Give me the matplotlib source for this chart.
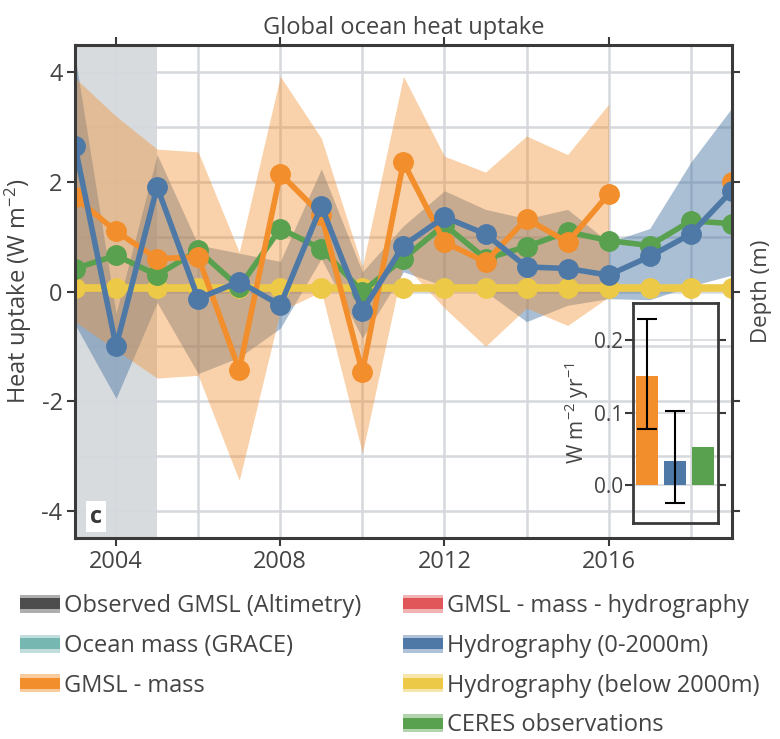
import numpy as np
import matplotlib
matplotlib.use("Agg")
import matplotlib.pyplot as plt
from matplotlib.patches import Patch, Rectangle
from matplotlib.legend_handler import HandlerBase

plt.rcParams['font.family'] = ['Open Sans', 'DejaVu Sans']
plt.rcParams['mathtext.fontset'] = 'custom'
plt.rcParams['mathtext.rm'] = 'Open Sans'
plt.rcParams['mathtext.it'] = 'Open Sans'
plt.rcParams['axes.unicode_minus'] = False

nan = np.nan
years = [2003, 2004, 2005, 2006, 2007, 2008, 2009, 2010, 2011,
         2012, 2013, 2014, 2015, 2016, 2017, 2018, 2019]

hydro_0_2000 = [2.65, -1.0, 1.91, -0.13, 0.18, -0.25, 1.56, -0.35, 0.84,
                1.36, 1.05, 0.45, 0.42, 0.30, 0.64, 1.05, 1.84]
hydro_upper = [4.3, -0.4, 2.5, 0.85, 0.7, 0.55, 2.24, 0.36, 1.2,
               1.84, 1.5, 1.33, 1.5, 0.9, 1.15, 2.36, 3.35]
hydro_lower = [-0.6, -1.95, -0.2, -1.5, -1.2, -0.67, 0.6, -0.85, 0.36,
               0.1, 0.0, -0.55, -0.25, -0.13, -0.15, 0.1, 0.3]

gmsl_mass = [1.72, 1.1, 0.6, 0.63, -1.43, 2.15, 1.4, -1.47, 2.36,
             0.9, 0.54, 1.33, 0.9, 1.78, nan, nan, 2.0]
gmsl_mass_upper = [3.9, 3.2, 2.6, 2.55, 0.72, 3.93, 2.8, 0.45, 3.93,
                   2.47, 2.18, 2.84, 2.5, 3.42, nan, nan, nan]
gmsl_mass_lower = [-0.55, -1.07, -1.58, -1.53, -3.45, -0.36, 0.0, -2.95, 0.5,
                   -0.3, -1.0, -0.3, -0.62, -0.1, nan, nan, nan]

ceres = [0.42, 0.66, 0.3, 0.75, 0.08, 1.15, 0.78, 0.0, 0.6,
         1.22, 0.6, 0.82, 1.09, 0.93, 0.84, 1.29, 1.24]

hydro_deep = [0.07, 0.07, 0.07, 0.07, 0.07, 0.07, 0.07, 0.07, 0.07,
              0.07, 0.07, 0.07, 0.07, 0.07, 0.07, 0.07, 0.07]

trend_values = [0.150, 0.034, 0.052]
trend_err_low = [0.073, 0.059, nan]
trend_err_high = [0.079, 0.068, nan]

legend_labels_left = ["Observed GMSL (Altimetry)", "Ocean mass (GRACE)", "GMSL - mass"]
legend_labels_right = ["GMSL - mass - hydrography", "Hydrography (0-2000m)",
                       "Hydrography (below 2000m)", "CERES observations"]

C_GRAY = '#4d4d4d'
C_TEAL = '#76b7b2'
C_ORANGE = '#f28e2b'
C_RED = '#e15759'
C_BLUE = '#4e79a7'
C_YELLOW = '#edc948'
C_GREEN = '#59a14f'
TXT = '#444444'
SPINE = '#3a3a3a'
GRID = '#d5d8dc'
FS = 17

fig = plt.figure(figsize=(7.8, 7.39), dpi=100)
ax = fig.add_axes([0.0962, 0.272, 0.842, 0.667])

x = np.array(years, dtype=float)

ax.axvspan(2003, 2005, color='#d8dbde', lw=0, zorder=0.3)
ax.fill_between(x, hydro_lower, hydro_upper, color=C_BLUE, alpha=0.48,
                lw=0, zorder=2)
ax.fill_between(x, gmsl_mass_lower, gmsl_mass_upper, color=C_ORANGE, alpha=0.4,
                lw=0, zorder=2.1)

ms = 14
lw = 4
ax.plot(x, hydro_deep, color=C_YELLOW, lw=5.5, marker='o', ms=ms, zorder=3)
ax.plot(x, ceres, color=C_GREEN, lw=lw, marker='o', ms=ms, zorder=4)
ax.plot(x, gmsl_mass, color=C_ORANGE, lw=lw, marker='o', ms=ms, zorder=5)
ax.plot(x, hydro_0_2000, color=C_BLUE, lw=lw, marker='o', ms=ms, zorder=6)

ax.set_xlim(2003, 2019)
ax.set_ylim(-4.5, 4.5)
ax.set_xticks([2004, 2008, 2012, 2016])
ax.set_xticks([2006, 2010, 2014, 2018], minor=True)
ax.set_yticks([-4, -2, 0, 2, 4])
ax.set_yticks([-3, -1, 1, 3], minor=True)
ax.grid(True, which='both', color=GRID, lw=1.8)
ax.set_axisbelow(True)
ax.tick_params(which='major', direction='out', length=6, width=1.5, color=SPINE,
               labelsize=FS, labelcolor=TXT, top=True, pad=3)
ax.tick_params(which='minor', length=0)
for s in ax.spines.values():
    s.set_linewidth(2.2)
    s.set_color(SPINE)
    s.set_zorder(10)
ax.set_ylabel('Heat uptake (W m$^{-2}$)', fontsize=FS, color=TXT, labelpad=5)
ax.set_title('Global ocean heat uptake', fontsize=FS, color=TXT, pad=8)

ax.text(0.032, 0.043, 'c', transform=ax.transAxes, fontsize=FS, fontweight='bold',
        color='#3a3a3a', ha='center', va='center', zorder=12,
        bbox=dict(boxstyle='square,pad=0.15', fc='white', ec='none'))

ax2 = ax.twinx()
ax2.set_ylim(ax.get_ylim())
ax2.set_yticks([-4, -2, 0, 2, 4])
ax2.set_yticklabels([])
ax2.tick_params(direction='out', length=6, width=1.5, color=SPINE)
ax2.set_ylabel('Depth (m)', fontsize=16, color=TXT, labelpad=4)
for s in ax2.spines.values():
    s.set_visible(False)

# inset
axi = fig.add_axes([0.8115, 0.2923, 0.109, 0.2977])
axi.patch.set_alpha(0)
bx = np.arange(len(trend_values))
bar_colors = [C_ORANGE, C_BLUE, C_GREEN]
axi.bar(bx, trend_values, width=0.8, color=bar_colors, zorder=3)
for i in range(len(trend_values)):
    if not np.isnan(trend_err_low[i]):
        axi.errorbar(bx[i], trend_values[i],
                     yerr=[[trend_err_low[i]], [trend_err_high[i]]],
                     fmt='none', ecolor='black', elinewidth=1.5, capsize=7,
                     capthick=1.5, zorder=4)
axi.set_xlim(-0.5, 2.55)
axi.set_ylim(-0.052, 0.251)
axi.set_xticks([])
axi.set_yticks([0.0, 0.1, 0.2])
axi.set_yticklabels(['0.0', '0.1', '0.2'])
axi.yaxis.grid(True, color=GRID, lw=1.2, zorder=0)
axi.tick_params(axis='y', direction='out', length=6, width=1.5, color=SPINE,
                labelsize=15, labelcolor=TXT, right=True, pad=1)
for s in axi.spines.values():
    s.set_linewidth(2)
    s.set_color(SPINE)
axi.set_ylabel('W m$^{-2}$ yr$^{-1}$', fontsize=15, color=TXT, labelpad=2)


# legends
class BandHandler(HandlerBase):
    def create_artists(self, legend, orig_handle, xdescent, ydescent, width,
                       height, fontsize, trans):
        c = orig_handle.get_facecolor()
        outer = Rectangle((-xdescent, -ydescent), width, height, facecolor=c,
                          alpha=0.45, lw=0, transform=trans)
        inner = Rectangle((-xdescent, -ydescent + height * 0.2), width,
                          height * 0.6, facecolor=c, alpha=1, lw=0,
                          transform=trans)
        return [outer, inner]


def mk(c):
    return Patch(facecolor=c)


left_handles = [mk(C_GRAY), mk(C_TEAL), mk(C_ORANGE)]
right_handles = [mk(C_RED), mk(C_BLUE), mk(C_YELLOW), mk(C_GREEN)]
common = dict(frameon=False, fontsize=FS, handlelength=1.7, handleheight=0.8,
              handletextpad=0.15, labelspacing=0.67, borderpad=0, borderaxespad=0,
              handler_map={Patch: BandHandler()}, loc='upper left',
              labelcolor=TXT)
fig.legend(left_handles, legend_labels_left, bbox_to_anchor=(20 / 780, 1 - 594 / 739),
           **common)
fig.legend(right_handles, legend_labels_right, bbox_to_anchor=(403 / 780, 1 - 594 / 739),
           **common)

fig.savefig('out.png', dpi=100)
